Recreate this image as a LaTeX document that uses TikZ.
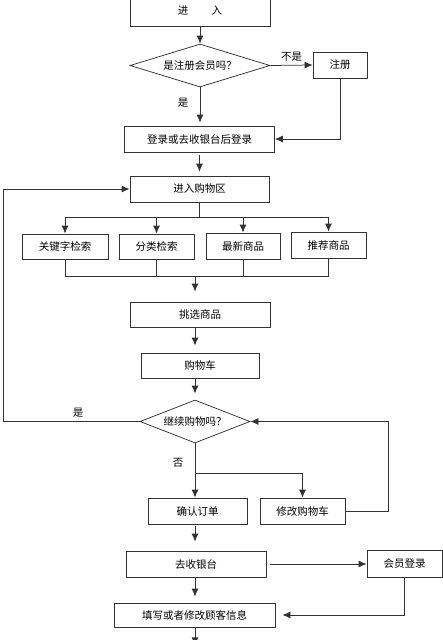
\documentclass[tikz,border=0pt]{standalone}
\usepackage{fontspec}
\setmainfont{Noto Sans CJK SC}
\usetikzlibrary{arrows.meta,shapes.geometric}
\tikzset{
  box_/.style = {shape=rectangle, draw, align=center, inner sep=0pt},
  ask_/.style = {shape=diamond, draw, align=center, inner sep=0pt},
  arr_/.style = {draw, -{Latex[length=8pt,width=7pt]}}
}

\begin{document}
\begin{tikzpicture}
	[
	x                 = 1pt,
	y                 = -1pt,
	line width        = 0.75pt,
	color             = black!80,
	every node/.style = {font=\fontsize{10.5}{12}\selectfont, text=black}
	]
	\useasboundingbox (0,0) rectangle (443,640);

	\node [box_, minimum width=140pt, minimum height=30pt] (enter) at (200,11) {进\hspace{2.2em}入};
	\node [ask_, aspect=3.2, minimum width=140pt, minimum height=43pt] (reg) at (200,65.5) {是注册会员吗？};
	\node [box_, minimum width=54pt, minimum height=26pt] (signup) at (340,65) {注册};
	\node [box_, minimum width=150pt, minimum height=26pt] (login) at (199.5,139) {登录或去收银台后登录};
	\node [box_, minimum width=139pt, minimum height=26pt] (area) at (199.5,189) {进入购物区};

	\node [box_, minimum width=86pt, minimum height=25pt] (kw) at (65,246.5) {关键字检索};
	\node [box_, minimum width=75pt, minimum height=25pt] (cat) at (156.5,246.5) {分类检索};
	\node [box_, minimum width=74pt, minimum height=26pt] (new) at (243,246) {最新商品};
	\node [box_, minimum width=75pt, minimum height=26pt] (rec) at (328.5,245) {推荐商品};

	\node [box_, minimum width=140pt, minimum height=25pt] (pick) at (200,314.5) {挑选商品};
	\node [box_, minimum width=118pt, minimum height=25pt] (cart) at (200,365.5) {购物车};
	\node [ask_, aspect=2.6, minimum width=110pt, minimum height=43pt] (more) at (195,421.5) {继续购物吗？};

	\node [box_, minimum width=99pt, minimum height=26pt] (confirm) at (197.5,511) {确认订单};
	\node [box_, minimum width=85pt, minimum height=26pt] (edit) at (302.5,511) {修改购物车};
	\node [box_, minimum width=140pt, minimum height=26pt] (pay) at (196,564) {去收银台};
	\node [box_, minimum width=75pt, minimum height=27pt] (member) at (404.5,564) {会员登录};
	\node [box_, minimum width=161pt, minimum height=24pt] (fill) at (194.5,615) {填写或者修改顾客信息};

	\coordinate (top_bus) at (199.5,217);
	\coordinate (low_bus) at (195,276);
	\coordinate (loop_l) at (3,421.5);
	\coordinate (split) at (195,473);

	\draw [arr_] (enter.south) -- (reg.north);
	\draw [arr_] (reg.east) -- node [above] {不是} (signup.west);
	\draw [arr_, shorten >=3pt] (reg.south) -- node [left=8pt, pos=0.41] {是} (reg.south |- login.north);
	\draw [arr_] (signup.south) |- (login.east);
	\draw [arr_, shorten <=3pt, shorten >=4pt] (login.south) -- (area.north);

	\draw (area.south) -- (top_bus);
	\draw (kw.north |- top_bus) -- (rec.north |- top_bus);
	\foreach \n in {kw,cat,new,rec}
		\draw [arr_] (\n.north |- top_bus) -- (\n.north);
	\foreach \n in {kw,cat,new,rec}
		\draw (\n.south) -- (\n.south |- low_bus);
	\draw (kw.south |- low_bus) -- (rec.south |- low_bus);
	\draw [arr_, shorten >=10pt] (low_bus) -- (low_bus |- pick.north);

	\draw [arr_, shorten >=7pt] (pick.south -| more) -- (cart.north -| more);
	\draw [arr_, shorten >=6pt] (cart.south -| more) -- (more.north);
	\draw [arr_] (more.west) -- node [above, pos=0.45] {是} (loop_l) |- (area.west);

	\draw [arr_] (more.south) -- node [left=8pt, pos=0.36] {否} (confirm.north -| more);
	\draw [arr_] (split) -| (edit.north);
	\draw [arr_] (edit.east) -- ++(43,0) |- (more.east);

	\draw [arr_, shorten <=2pt, shorten >=9pt] (confirm.south -| more) -- (pay.north -| more);
	\draw [arr_, shorten <=4pt] (pay.east) -- (member.west);
	\draw [arr_, shorten >=6pt] (pay.south -| more) -- (fill.north -| more);
	\draw [arr_, shorten >=7pt] (member.south) |- (fill.east);
	\draw [arr_] (fill.south -| more) -- ++(0,18);
\end{tikzpicture}
\end{document}
